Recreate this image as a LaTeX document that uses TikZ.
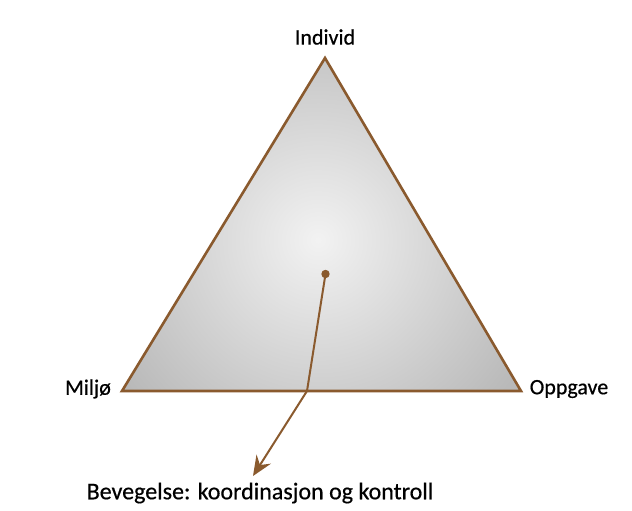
\documentclass[tikz,border=0pt]{standalone}
\usepackage{fontspec}
\setmainfont{Carlito}[FakeBold=0.5]
\usetikzlibrary{arrows.meta}
\definecolor{brn}{HTML}{8A5A2E}
\tikzset{
  lbl/.style={font=\fontsize{22}{25}\selectfont, text=black, inner sep=0pt},
  biglbl/.style={font=\fontsize{24}{27}\selectfont, text=black, inner sep=0pt},
  edge/.style={draw=brn, line width=2.6pt, line join=miter},
  conn/.style={draw=brn, line width=2pt},
}
\begin{document}
\begin{tikzpicture}[x=1pt,y=-1pt]
\useasboundingbox (0,0) rectangle (632,511);
\fill[white] (0,0) rectangle (632,511);
\coordinate (top) at (325,58);
\coordinate (left) at (122,391);
\coordinate (right) at (521,391);
\begin{scope}
  \clip (top) -- (left) -- (right) -- cycle;
  \fill[gray!55] (0,0) rectangle (632,511);
  \shade[inner color=gray!10, outer color=gray!55] (318,240) circle (240);
\end{scope}
\draw[edge] (top) -- (left) -- (right) -- cycle;
\node[lbl] (ind) at (325,37) {Individ};
\node[lbl] (mil) at (88,389) {Miljø};
\node[lbl] (opp) at (569,389) {Oppgave};
\node[biglbl] (bev) at (260,493) {Bevegelse: koordinasjon og kontroll};
\coordinate (c) at (325.5,274);
\coordinate (bend) at (307,391);
\coordinate (tip) at (253,476);
\fill[brn] (c) circle (4.2);
\draw[conn, -{Stealth[length=20pt,width=17pt,inset=7pt]}] (c) -- (bend) -- (tip);
\end{tikzpicture}
\end{document}
